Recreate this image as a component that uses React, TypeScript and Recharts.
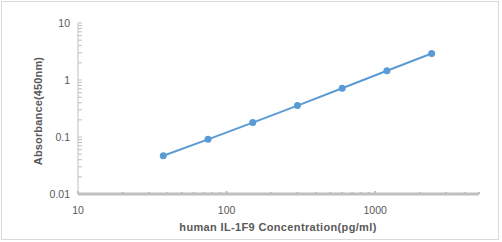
import React from "react";
import { LineChart, Line, XAxis, YAxis } from "recharts";

// concentrations (pg/ml) and measured absorbance
const concentrations = [37.5, 75, 150, 300, 600, 1200, 2400];
const absorbance = [0.047, 0.091, 0.179, 0.356, 0.718, 1.45, 2.92];

const xMajorTicks = [10, 100, 1000];
const xMinorTicks = [20, 30, 40, 50, 60, 70, 80, 90, 200, 300, 400, 500, 600, 700, 800, 900, 2000, 3000, 4000, 5000];
const yMajorTicks = [0.01, 0.1, 1, 10];
const yMinorTicks = [
  0.02, 0.03, 0.04, 0.05, 0.06, 0.07, 0.08, 0.09,
  0.2, 0.3, 0.4, 0.5, 0.6, 0.7, 0.8, 0.9,
  2, 3, 4, 5, 6, 7, 8, 9,
];

const data = concentrations.map((c, i) => ({ conc: c, od: absorbance[i] }));

const FONT = "'Liberation Sans', Arial, sans-serif";
const GRAY = "#595959";
const AXIS = "#bfbfbf";

const XTick = (props: any) => {
  const { x, y, payload } = props;
  const major = xMajorTicks.includes(payload.value);
  return (
    <g>
      <line x1={x} x2={x} y1={y} y2={y - (major ? 3 : 2)} stroke={AXIS} strokeWidth={2} />
      {major && (
        <text x={x} y={y + 19.5} textAnchor="middle" fill={GRAY} fontSize={10.5} fontFamily={FONT}>
          {payload.value}
        </text>
      )}
    </g>
  );
};

const YTick = (props: any) => {
  const { x, y, payload } = props;
  const major = yMajorTicks.includes(payload.value);
  return (
    <g>
      <line x1={x} x2={x + 4} y1={y} y2={y} stroke={AXIS} strokeWidth={1} />
      {major && (
        <text x={x - 8} y={y + 3.7} textAnchor="end" fill={GRAY} fontSize={10.5} fontFamily={FONT}>
          {payload.value}
        </text>
      )}
    </g>
  );
};

export default function App() {
  return (
    <div
      style={{
        position: "absolute",
        left: 0,
        top: 0,
        width: 502,
        height: 242,
        background: "#fff",
      }}
    >
      <div
        style={{
          position: "absolute",
          left: 1,
          top: 1,
          width: 496,
          height: 237,
          border: "1px solid #d9d9d9",
        }}
      />
      <LineChart
        width={502}
        height={242}
        data={data}
        margin={{ top: 23, right: 23, left: 48, bottom: 0 }}
        style={{ position: "absolute", left: 0, top: 0 }}
      >
        <XAxis
          dataKey="conc"
          type="number"
          scale="log"
          domain={[10, 5000]}
          allowDataOverflow
          ticks={[...xMajorTicks, ...xMinorTicks]}
          interval={0}
          tickLine={false}
          tickSize={0}
          tickMargin={0}
          tick={<XTick />}
          axisLine={{ stroke: AXIS, strokeWidth: 3 }}
          height={48}
          label={{
            content: () => (
              <text
                x={278}
                y={231}
                textAnchor="middle"
                fill={GRAY}
                fontSize={11}
                fontWeight="bold"
                letterSpacing={0.35}
                fontFamily={FONT}
              >
                human IL-1F9 Concentration(pg/ml)
              </text>
            ),
          }}
        />
        <YAxis
          dataKey="od"
          type="number"
          scale="log"
          domain={[0.01, 10]}
          allowDataOverflow
          ticks={[...yMajorTicks, ...yMinorTicks]}
          interval={0}
          tickLine={false}
          tickSize={0}
          tickMargin={0}
          tick={<YTick />}
          axisLine={{ stroke: AXIS, strokeWidth: 1 }}
          width={30}
          label={{
            content: () => (
              <text
                x={42}
                y={111}
                transform="rotate(-90 42 111)"
                textAnchor="middle"
                fill={GRAY}
                fontSize={11}
                fontWeight="bold"
                letterSpacing={0.15}
                fontFamily={FONT}
              >
                Absorbance(450nm)
              </text>
            ),
          }}
        />
        <Line
          type="linear"
          dataKey="od"
          stroke="#5b9bd5"
          strokeWidth={2}
          dot={{ r: 3.5, fill: "#5b9bd5", stroke: "none" }}
          isAnimationActive={false}
        />
      </LineChart>
    </div>
  );
}
